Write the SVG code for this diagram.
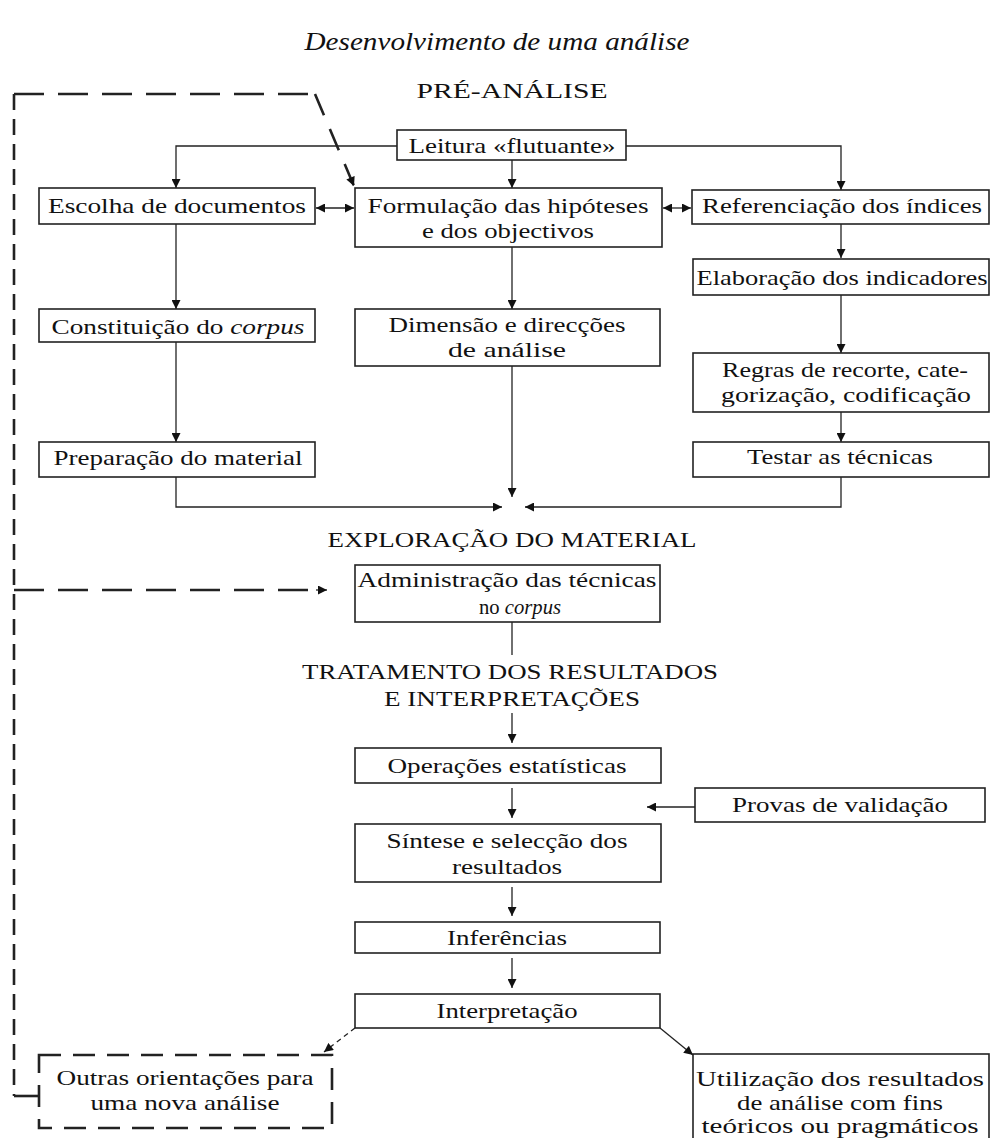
<svg xmlns="http://www.w3.org/2000/svg" width="992" height="1138" viewBox="0 0 992 1138">
<style>
text{font-family:"Liberation Serif","Times New Roman",serif;font-size:22px;fill:#111;text-anchor:middle}
.title{font-size:26px;font-style:italic}
.box{fill:#fff;stroke:#222;stroke-width:1.6}
.dbox{fill:#fff;stroke:#222;stroke-width:2.6;stroke-dasharray:22 12}
.c{fill:none;stroke:#222;stroke-width:1.3}
.dl{fill:none;stroke:#222;stroke-width:2.6}
</style>
<defs>
<marker id="ah" viewBox="0 0 10 10" refX="10" refY="5" markerWidth="10" markerHeight="9" markerUnits="userSpaceOnUse" orient="auto-start-reverse">
<path d="M0,0 L10,5 L0,10 z" fill="#111"/>
</marker>
</defs>
<text class="title" x="497" y="50" textLength="385" lengthAdjust="spacingAndGlyphs">Desenvolvimento de uma análise</text>
<text x="512" y="98" textLength="191" lengthAdjust="spacingAndGlyphs">PRÉ-ANÁLISE</text>
<text x="512" y="547" textLength="369" lengthAdjust="spacingAndGlyphs">EXPLORAÇÃO DO MATERIAL</text>
<text x="510" y="679" textLength="416" lengthAdjust="spacingAndGlyphs">TRATAMENTO DOS RESULTADOS</text>
<text x="512" y="706" textLength="256" lengthAdjust="spacingAndGlyphs">E INTERPRETAÇÕES</text>

<g id="connectors">
<path class="c" d="M397,146 H176 V188" marker-end="url(#ah)"/>
<path class="c" d="M626,146 H841 V190" marker-end="url(#ah)"/>
<path class="c" d="M512,160 V188" marker-end="url(#ah)"/>
<path class="c" d="M316,208 H354" marker-start="url(#ah)" marker-end="url(#ah)"/>
<path class="c" d="M663,208 H691" marker-start="url(#ah)" marker-end="url(#ah)"/>
<path class="c" d="M841,224 V258" marker-end="url(#ah)"/>
<path class="c" d="M841,295 V353" marker-end="url(#ah)"/>
<path class="c" d="M841,412 V442" marker-end="url(#ah)"/>
<path class="c" d="M841,477 V507 H525" marker-end="url(#ah)"/>
<path class="c" d="M176,224 V309" marker-end="url(#ah)"/>
<path class="c" d="M176,342 V442" marker-end="url(#ah)"/>
<path class="c" d="M176,477 V507 H502" marker-end="url(#ah)"/>
<path class="c" d="M512,247 V309" marker-end="url(#ah)"/>
<path class="c" d="M512,366 V497" marker-end="url(#ah)"/>
<path class="c" d="M512,622 V655"/>
<path class="c" d="M512,713 V743" marker-end="url(#ah)"/>
<path class="c" d="M512,788 V818" marker-end="url(#ah)"/>
<path class="c" d="M695,807 H647" marker-end="url(#ah)"/>
<path class="c" d="M512,887 V916" marker-end="url(#ah)"/>
<path class="c" d="M512,958 V988" marker-end="url(#ah)"/>
<path class="c" d="M355,1028 L324,1052" stroke-dasharray="5 4" marker-end="url(#ah)"/>
<path class="c" d="M660,1028 L693,1055" stroke-width="1.6" marker-end="url(#ah)"/>
<path class="dl" d="M14,94 V1096" stroke-dasharray="16 9"/>
<path class="dl" d="M14,94 H315" stroke-dasharray="30 14"/>
<path class="dl" d="M315,94 L354,186" stroke-dasharray="23 15" marker-end="url(#ah)"/>
<path class="dl" d="M14,590 H318" stroke-dasharray="30 14"/>
<path class="c" d="M316,590 H327" stroke-width="2" marker-end="url(#ah)"/>
<path class="dl" d="M14,1096 H39"/>
</g>

<g id="leitura"><rect class="box" x="397" y="130" width="229" height="30"/><text x="512" y="153" textLength="207" lengthAdjust="spacingAndGlyphs">Leitura «flutuante»</text></g>
<g id="escolha"><rect class="box" x="39" y="188" width="276" height="36"/><text x="177" y="213" textLength="258" lengthAdjust="spacingAndGlyphs">Escolha de documentos</text></g>
<g id="formulacao"><rect class="box" x="355" y="188" width="307" height="59"/><text x="508" y="213" textLength="281" lengthAdjust="spacingAndGlyphs">Formulação das hipóteses</text><text x="508" y="238" textLength="172" lengthAdjust="spacingAndGlyphs">e dos objectivos</text></g>
<g id="referenciacao"><rect class="box" x="692" y="190" width="297" height="34"/><text x="842" y="213" textLength="280" lengthAdjust="spacingAndGlyphs">Referenciação dos índices</text></g>
<g id="elaboracao"><rect class="box" x="693" y="259" width="296" height="36"/><text x="842" y="285" textLength="291" lengthAdjust="spacingAndGlyphs">Elaboração dos indicadores</text></g>
<g id="regras"><rect class="box" x="693" y="353" width="296" height="59"/><text x="845" y="377" textLength="246" lengthAdjust="spacingAndGlyphs">Regras de recorte, cate-</text><text x="846" y="402" textLength="250" lengthAdjust="spacingAndGlyphs">gorização, codificação</text></g>
<g id="testar"><rect class="box" x="693" y="442" width="296" height="35"/><text x="840" y="464" textLength="186" lengthAdjust="spacingAndGlyphs">Testar as técnicas</text></g>
<g id="constituicao"><rect class="box" x="39" y="309" width="276" height="33"/><text x="178" y="334" textLength="253" lengthAdjust="spacingAndGlyphs">Constituição do <tspan font-style="italic">corpus</tspan></text></g>
<g id="preparacao"><rect class="box" x="39" y="442" width="276" height="35"/><text x="178" y="465" textLength="249" lengthAdjust="spacingAndGlyphs">Preparação do material</text></g>
<g id="dimensao"><rect class="box" x="355" y="309" width="305" height="57"/><text x="507" y="332" textLength="237" lengthAdjust="spacingAndGlyphs">Dimensão e direcções</text><text x="507" y="357" textLength="118" lengthAdjust="spacingAndGlyphs">de análise</text></g>
<g id="administracao"><rect class="box" x="355" y="565" width="305" height="57"/><text x="507" y="587" textLength="299" lengthAdjust="spacingAndGlyphs">Administração das técnicas</text><text x="520" y="614" textLength="82" lengthAdjust="spacingAndGlyphs">no <tspan font-style="italic">corpus</tspan></text></g>
<g id="operacoes"><rect class="box" x="355" y="748" width="306" height="35"/><text x="507" y="773" textLength="239" lengthAdjust="spacingAndGlyphs">Operações estatísticas</text></g>
<g id="provas"><rect class="box" x="695" y="788" width="290" height="34"/><text x="840" y="812" textLength="216" lengthAdjust="spacingAndGlyphs">Provas de validação</text></g>
<g id="sintese"><rect class="box" x="355" y="824" width="306" height="58"/><text x="507" y="848" textLength="241" lengthAdjust="spacingAndGlyphs">Síntese e selecção dos</text><text x="507" y="874" textLength="110" lengthAdjust="spacingAndGlyphs">resultados</text></g>
<g id="inferencias"><rect class="box" x="355" y="922" width="305" height="31"/><text x="507" y="945" textLength="120" lengthAdjust="spacingAndGlyphs">Inferências</text></g>
<g id="interpretacao"><rect class="box" x="355" y="994" width="305" height="34"/><text x="507" y="1018" textLength="141" lengthAdjust="spacingAndGlyphs">Interpretação</text></g>
<g id="outras"><rect class="dbox" x="39" y="1055" width="293" height="73"/><text x="185" y="1085" textLength="257" lengthAdjust="spacingAndGlyphs">Outras orientações para</text><text x="185" y="1110" textLength="189" lengthAdjust="spacingAndGlyphs">uma nova análise</text></g>
<g id="utilizacao"><rect class="box" x="693" y="1054" width="296" height="95"/><text x="840" y="1086" textLength="288" lengthAdjust="spacingAndGlyphs">Utilização dos resultados</text><text x="840" y="1110" textLength="206" lengthAdjust="spacingAndGlyphs">de análise com fins</text><text x="840" y="1133" textLength="277" lengthAdjust="spacingAndGlyphs">teóricos ou pragmáticos</text></g>
</svg>
